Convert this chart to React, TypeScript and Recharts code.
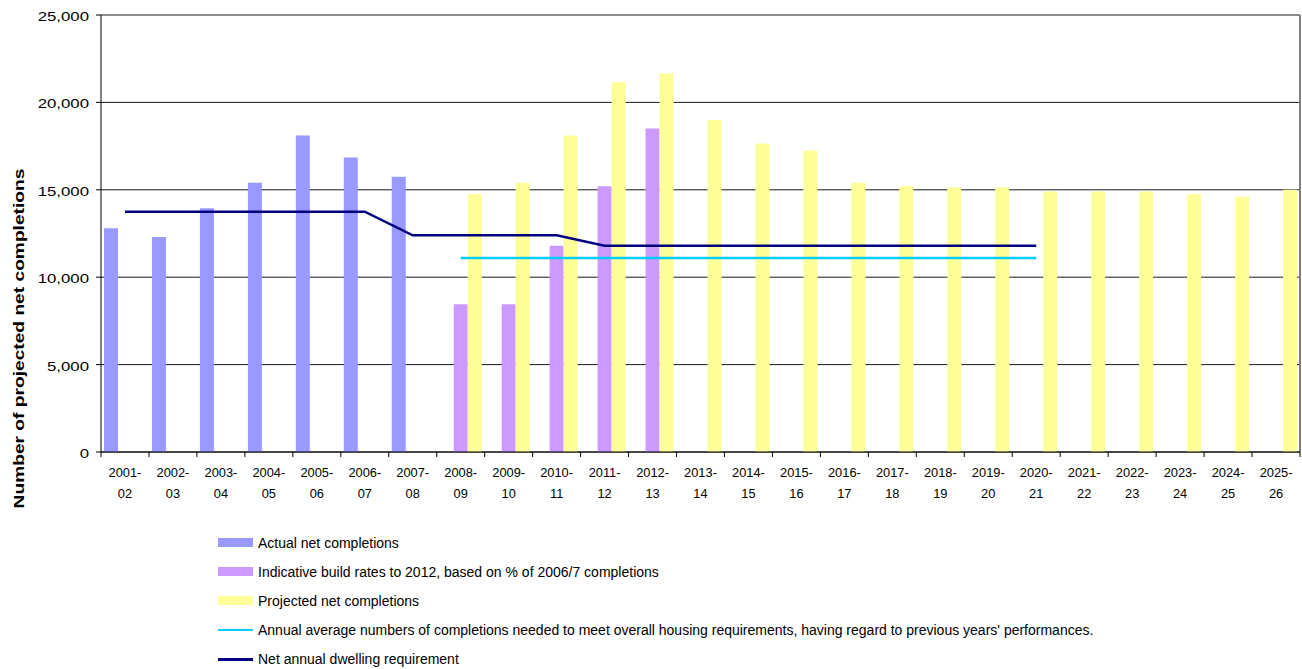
import React from 'react';
import { ComposedChart, Bar, Line, XAxis, YAxis, CartesianGrid, Legend, ReferenceLine, Label } from 'recharts';

const years = [
  '2001-02', '2002-03', '2003-04', '2004-05', '2005-06', '2006-07', '2007-08', '2008-09', '2009-10',
  '2010-11', '2011-12', '2012-13', '2013-14', '2014-15', '2015-16', '2016-17', '2017-18', '2018-19',
  '2019-20', '2020-21', '2021-22', '2022-23', '2023-24', '2024-25', '2025-26',
];

const actualNet = [12800, 12300, 13950, 15400, 18100, 16850, 15750, null, null, null, null, null, null, null, null, null, null, null, null, null, null, null, null, null, null];
const indicative = [null, null, null, null, null, null, null, 8450, 8450, 11800, 15200, 18500, null, null, null, null, null, null, null, null, null, null, null, null, null];
const projected = [null, null, null, null, null, null, null, 14750, 15400, 18100, 21150, 21650, 19000, 17650, 17250, 15400, 15200, 15150, 15150, 14900, 14900, 14900, 14750, 14600, 15000];
const annualAverage = [null, null, null, null, null, null, null, 11100, 11100, 11100, 11100, 11100, 11100, 11100, 11100, 11100, 11100, 11100, 11100, 11100, null, null, null, null, null];
const netRequirement = [13750, 13750, 13750, 13750, 13750, 13750, 12400, 12400, 12400, 12400, 11800, 11800, 11800, 11800, 11800, 11800, 11800, 11800, 11800, 11800, null, null, null, null, null];

const yTicks = [0, 5000, 10000, 15000, 20000, 25000];

const seriesInfo = [
  { key: 'actual', name: 'Actual net completions', color: '#9999FF', kind: 'bar' },
  { key: 'indicative', name: 'Indicative build rates to 2012, based on % of 2006/7 completions', color: '#CC99FF', kind: 'bar' },
  { key: 'projected', name: 'Projected net completions', color: '#FFFF99', kind: 'bar' },
  { key: 'average', name: "Annual average numbers of completions needed to meet overall housing requirements, having regard to previous years' performances.", color: '#00CCFF', kind: 'line' },
  { key: 'requirement', name: 'Net annual dwelling requirement', color: '#000080', kind: 'line' },
];

const data = years.map((y, i) => ({
  year: y,
  actual: actualNet[i],
  indicative: indicative[i],
  projected: projected[i],
  average: annualAverage[i],
  requirement: netRequirement[i],
}));

const FONT = '"Liberation Sans", Arial, sans-serif';

const XTick = (props: any) => {
  const { x, y, payload, index, visibleTicksCount } = props;
  const half = payload && typeof payload.offset === 'number' ? payload.offset : 0;
  const parts = String(payload.value).split('-');
  const isLast = index === visibleTicksCount - 1;
  return (
    <g>
      <line x1={x - half} x2={x - half} y1={y} y2={y + 5} stroke="#000" />
      {isLast && <line x1={x + half} x2={x + half} y1={y} y2={y + 5} stroke="#000" />}
      <text transform={`translate(${x},${y + 24.5}) scale(1.07,1)`} textAnchor="middle" fontSize={12} fill="#000" fontFamily={FONT}>
        {parts[0] + '-'}
      </text>
      <text transform={`translate(${x},${y + 45.5}) scale(1.07,1)`} textAnchor="middle" fontSize={12} fill="#000" fontFamily={FONT}>
        {parts[1]}
      </text>
    </g>
  );
};

const YTick = (props: any) => {
  const { x, y, payload } = props;
  return (
    <text transform={`translate(${x},${y + 6}) scale(1.4,1)`} textAnchor="end" fontSize={12} fill="#000" fontFamily={FONT}>
      {Number(payload.value).toLocaleString('en-US')}
    </text>
  );
};

const YLabel = (props: any) => {
  const vb = props.viewBox || { x: 0, y: 0, width: 0, height: 0 };
  const cx = vb.x + 24;
  const cy = vb.y + vb.height / 2 + 105;
  return (
    <text transform={`translate(${cx},${cy}) rotate(-90) scale(1.37,1)`} textAnchor="middle" fontSize={14} fontWeight="bold" fill="#000" fontFamily={FONT}>
      Number of projected net completions
    </text>
  );
};

const LegendContent = () => (
  <div style={{ fontFamily: FONT, fontSize: 14, color: '#000' }}>
    {seriesInfo.map((s) => (
      <div key={s.key} style={{ height: 29.2, display: 'flex', alignItems: 'center', whiteSpace: 'nowrap' }}>
        <div style={{ width: 35, height: s.kind === 'bar' ? 9 : 2.5, background: s.color, marginRight: 5, flex: 'none' }} />
        <span>{s.name}</span>
      </div>
    ))}
  </div>
);

export default function App() {
  return (
    <div style={{ position: 'absolute', left: 0, top: 0, width: 1302, height: 669, background: '#fff', fontFamily: FONT }}>
      <ComposedChart
        width={1302}
        height={669}
        data={data}
        margin={{ top: 15, right: 2, bottom: 167, left: 0 }}
        barGap={0}
      >
        <CartesianGrid horizontal vertical={false} stroke="#1a1a1a" strokeWidth={1} />
        <XAxis
          dataKey="year"
          height={50}
          axisLine={{ stroke: '#000' }}
          tickLine={false}
          tickSize={0}
          tickMargin={0}
          interval={0}
          tick={<XTick />}
        />
        <YAxis
          width={101}
          domain={[0, 25000]}
          ticks={yTicks}
          interval={0}
          axisLine={{ stroke: '#000' }}
          tickLine={{ stroke: '#000' }}
          tickSize={5}
          tickMargin={7}
          tick={<YTick />}
        >
          <Label content={<YLabel />} />
        </YAxis>
        <ReferenceLine x={years[years.length - 1]} position="end" stroke="#808080" strokeWidth={2} />
        <Bar dataKey="actual" name={seriesInfo[0].name} fill={seriesInfo[0].color} barSize={14} isAnimationActive={false} />
        <Bar dataKey="indicative" name={seriesInfo[1].name} fill={seriesInfo[1].color} barSize={14} isAnimationActive={false} />
        <Bar dataKey="projected" name={seriesInfo[2].name} fill={seriesInfo[2].color} barSize={14} isAnimationActive={false} />
        <Line dataKey="average" name={seriesInfo[3].name} stroke={seriesInfo[3].color} strokeWidth={2.5} dot={false} type="linear" connectNulls={false} isAnimationActive={false} />
        <Line dataKey="requirement" name={seriesInfo[4].name} stroke={seriesInfo[4].color} strokeWidth={2.5} dot={false} type="linear" connectNulls={false} isAnimationActive={false} />
        <Legend
          layout="vertical"
          align="center"
          verticalAlign="middle"
          content={<LegendContent />}
          wrapperStyle={{ position: 'absolute', left: 218, top: 528, width: 1080, height: 150 }}
        />
      </ComposedChart>
    </div>
  );
}
